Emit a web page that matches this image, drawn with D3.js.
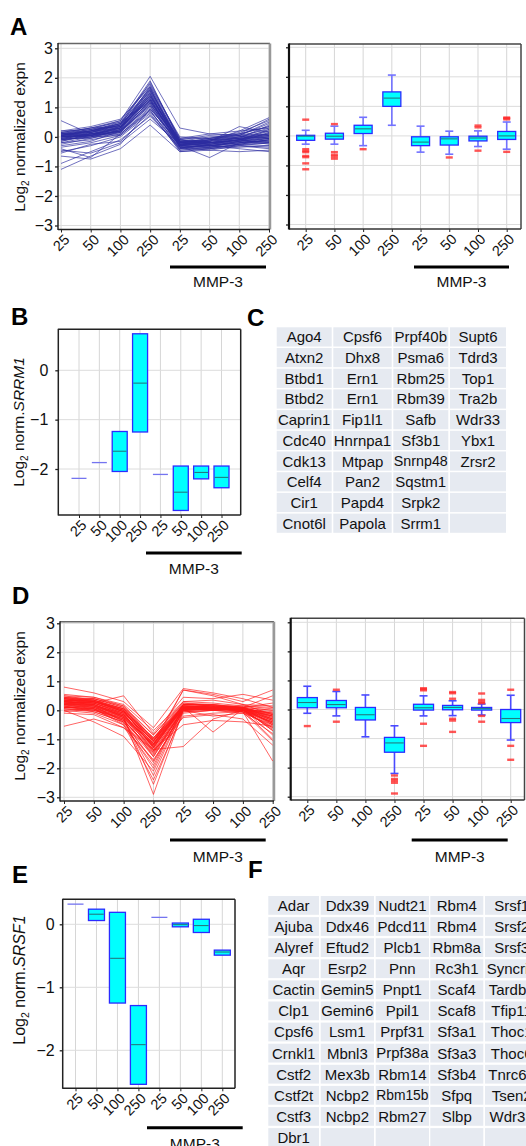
<!DOCTYPE html>
<html>
<head>
<meta charset="utf-8">
<script src="https://cdn.jsdelivr.net/npm/d3@7"></script>
<style>
  body { margin: 0; background: #fff; }
  svg { display: block; }
</style>
</head>
<body>
<div id="chart"></div>
<script>
// categories (dose, then dose + MMP-3)
const cats = ["25", "50", "100", "250", "25", "50", "100", "250"];

// panel A: individual gene profiles (log2 normalized expn)
const aLines = [
  [0.10, 0.25, 0.45, 1.60, -0.20, -0.10, -0.05, 0.10],
  [-0.05, 0.05, 0.30, 1.30, -0.30, -0.25, -0.10, 0.05],
  [0.00, 0.10, 0.20, 1.10, -0.15, -0.20, 0.00, 0.20],
  [0.15, 0.30, 0.55, 2.05, 0.30, 0.10, 0.05, 0.45],
  [-0.10, 0.00, 0.25, 1.45, -0.35, -0.30, -0.20, -0.10],
  [0.05, 0.20, 0.40, 1.85, -0.10, 0.05, 0.10, 0.60],
  [-0.20, -0.10, 0.10, 0.90, -0.40, -0.35, -0.30, -0.20],
  [0.00, 0.05, 0.35, 1.25, -0.25, -0.15, -0.05, 0.00],
  [0.10, 0.15, 0.30, 1.40, -0.20, -0.30, -0.15, 0.15],
  [-0.05, 0.10, 0.15, 1.05, -0.30, -0.20, -0.10, -0.05],
  [0.20, 0.35, 0.60, 1.70, -0.05, 0.10, 0.20, 0.65],
  [-0.50, -0.30, 0.00, 0.80, -0.45, -0.40, -0.35, -0.30],
  [-0.65, -0.75, -0.40, 0.40, -0.50, -0.45, -0.50, -0.45],
  [-0.90, -0.50, -0.10, 0.70, -0.35, -0.30, -0.25, -0.10],
  [-1.10, -0.65, -0.25, 0.95, -0.20, -0.15, 0.00, 0.30],
  [0.55, 0.10, 0.25, 1.20, -0.25, -0.20, -0.10, 0.10],
  [-0.40, -0.70, 0.10, 1.00, -0.30, -0.35, -0.15, -0.05],
  [0.05, 0.00, 0.20, 1.35, -0.15, -0.10, 0.05, 0.25],
  [-0.15, 0.05, 0.30, 1.50, -0.35, -0.25, -0.20, -0.15],
  [0.10, 0.20, 0.50, 1.75, 0.00, -0.05, 0.10, 0.35],
  [0.00, 0.15, 0.40, 1.55, -0.20, -0.15, -0.05, 0.05],
  [-0.25, -0.05, 0.15, 1.15, -0.40, -0.30, -0.20, -0.20],
  [0.05, 0.25, 0.35, 1.30, -0.25, -0.20, -0.10, 0.00],
  [-0.10, 0.00, 0.05, 0.85, -0.30, -0.35, -0.25, -0.10],
  [0.15, 0.20, 0.45, 1.90, -0.15, 0.00, 0.05, 0.50],
  [-0.30, -0.15, 0.20, 1.25, -0.35, -0.45, -0.30, -0.35],
  [0.00, 0.10, 0.30, 1.60, -0.10, -0.20, -0.10, 0.20],
  [-0.05, -0.05, 0.25, 1.40, -0.30, -0.70, -0.20, -0.10],
  [0.10, 0.30, 0.50, 1.20, -0.20, -0.10, 0.00, 0.10],
  [-0.55, -0.25, -0.15, 0.75, -0.40, -0.25, -0.10, -0.25],
  [0.00, 0.05, 0.10, 0.95, -0.20, -0.30, -0.40, -0.50],
  [0.05, 0.15, 0.40, 1.45, -0.25, -0.15, 0.35, 0.15],
  [-0.15, 0.10, 0.35, 1.65, -0.30, -0.20, -0.05, 0.40],
  [0.10, 0.05, 0.20, 1.10, -0.35, -0.40, -0.25, -0.30],
  [-0.45, -0.55, -0.20, 0.60, -0.25, -0.30, -0.20, -0.05],
  [0.20, 0.25, 0.55, 1.80, -0.05, -0.05, 0.15, 0.55],
  [0.00, 0.20, 0.30, 1.35, -0.10, -0.25, -0.15, -0.15],
  [-0.20, 0.00, 0.20, 1.05, -0.45, -0.35, -0.30, -0.40],
  [0.05, 0.10, 0.25, 1.50, -0.20, -0.05, 0.00, 0.05],
  [-0.10, 0.15, 0.45, 1.30, -0.15, -0.20, -0.10, 0.25],
  [0.15, 0.30, 0.35, 1.15, -0.30, -0.10, -0.05, 0.00],
  [-0.35, -0.20, 0.05, 0.90, -0.50, -0.40, -0.25, -0.20],
  [0.00, 0.05, 0.15, 1.25, -0.25, -0.30, -0.15, -0.05],
  [0.05, 0.20, 0.40, 1.40, -0.10, -0.15, 0.20, 0.30],
  [-0.05, 0.10, 0.30, 1.70, -0.20, -0.05, 0.05, 0.10],
  [0.10, 0.15, 0.35, 1.55, -0.15, -0.25, -0.10, -0.20],
  [-0.10, 0.05, 0.20, 1.20, -0.25, -0.10, 0.10, 0.35],
  [0.05, 0.20, 0.45, 1.65, -0.30, -0.20, -0.15, 0.00]
];

// panel A: box summaries
const aQ1 = [-0.15, -0.11, 0.08, 1.00, -0.33, -0.31, -0.17, -0.12];
const aMed = [-0.01, -0.01, 0.24, 1.28, -0.21, -0.10, -0.07, 0.00];
const aQ3 = [0.02, 0.09, 0.36, 1.49, -0.03, -0.03, -0.01, 0.15];
const aLo = [-0.28, -0.28, -0.33, 0.36, -0.55, -0.62, -0.36, -0.45];
const aHi = [0.19, 0.33, 0.63, 2.06, 0.33, 0.16, 0.17, 0.47];
const aOut = [
  [0.55, -0.45, -0.51, -0.55, -0.68, -0.72, -0.93, -1.13],
  [0.40, -0.55, -0.64, -0.70, -0.77],
  [-0.45], [], [], [-0.73],
  [0.35, 0.29, -0.50],
  [0.62, 0.60, 0.56, -0.54]
];

// panel B: SRRM1
const bQ1 = [-2.19, -1.87, -2.05, -1.25, -2.11, -2.84, -2.20, -2.38];
const bMed = [-2.19, -1.87, -1.64, -0.26, -2.11, -2.47, -2.07, -2.17];
const bQ3 = [-2.19, -1.87, -1.24, 0.74, -2.11, -1.94, -1.94, -1.94];

// panel C genes
const cGenes = [
  ["Ago4", "Atxn2", "Btbd1", "Btbd2", "Caprin1", "Cdc40", "Cdk13", "Celf4", "Cir1", "Cnot6l"],
  ["Cpsf6", "Dhx8", "Ern1", "Ern1", "Fip1l1", "Hnrnpa1", "Mtpap", "Pan2", "Papd4", "Papola"],
  ["Prpf40b", "Psma6", "Rbm25", "Rbm39", "Safb", "Sf3b1", "Snrnp48", "Sqstm1", "Srpk2", "Srrm1"],
  ["Supt6", "Tdrd3", "Top1", "Tra2b", "Wdr33", "Ybx1", "Zrsr2", "", "", ""]
];

// panel D: individual gene profiles
const dLines = [
  [0.25, 0.20, -0.15, -1.15, 0.05, 0.10, 0.05, -0.30],
  [0.40, 0.30, 0.05, -0.95, 0.15, 0.12, 0.05, -0.10],
  [0.10, 0.05, -0.35, -1.45, 0.00, 0.05, 0.00, -0.45],
  [0.30, 0.25, -0.10, -1.05, 0.10, 0.08, 0.03, -0.20],
  [0.80, 0.60, 0.30, -0.60, 0.75, 0.60, 0.40, 0.10],
  [0.05, -0.05, -0.40, -1.60, -0.05, 0.00, -0.05, -0.55],
  [0.35, 0.30, 0.00, -1.20, 0.20, 0.15, 0.10, -0.25],
  [0.20, 0.15, -0.20, -1.30, 0.05, 0.05, 0.00, -0.40],
  [0.45, 0.40, 0.10, -0.85, 0.25, 0.20, 0.10, 0.00],
  [0.00, -0.10, -0.50, -1.90, 0.10, 0.05, 0.05, -0.70],
  [0.25, 0.35, -0.05, -1.00, 0.15, 0.10, 0.05, -0.15],
  [-0.55, -0.30, -0.60, -1.35, -1.25, -0.30, 0.00, -0.30],
  [0.15, 0.00, -0.30, -2.25, 0.05, 0.05, 0.00, -1.00],
  [0.30, 0.20, -0.25, -2.90, 0.00, 0.10, -0.05, -1.75],
  [0.40, 0.35, 0.05, -1.10, 0.70, 0.55, 0.30, 0.70],
  [0.10, 0.10, -0.15, -1.25, 0.10, -0.75, 0.05, -0.35],
  [0.35, 0.25, -0.10, -1.40, 0.05, 0.10, 0.10, -0.50],
  [0.20, 0.05, -0.45, -2.00, 0.15, 0.05, 0.05, -0.85],
  [0.50, 0.45, 0.20, -0.70, 0.30, 0.25, 0.15, 0.10],
  [0.25, 0.30, -0.05, -1.15, 0.05, 0.00, 0.05, -0.20],
  [-0.10, -0.15, -0.60, -1.70, -0.20, -0.10, -0.05, -0.60],
  [0.30, 0.20, -0.20, -1.20, 0.10, 0.15, 0.10, -0.30],
  [0.45, 0.35, 0.00, -0.95, 0.20, 0.20, 0.05, -0.05],
  [0.15, 0.10, -0.35, -1.50, 0.00, 0.05, 0.00, -0.40],
  [0.05, 0.00, -0.25, -1.35, -0.50, -0.35, -0.40, -0.55],
  [0.40, 0.25, 0.50, -0.80, 0.45, 0.40, 0.55, 0.35],
  [0.20, 0.15, -0.10, -1.05, 0.15, 0.10, 0.10, -0.15],
  [0.35, 0.30, -0.05, -1.25, 0.05, 0.05, 0.05, -0.45],
  [0.10, 0.05, -0.50, -2.40, -0.10, 0.00, -0.05, -1.05],
  [0.30, 0.40, 0.10, -1.00, 0.10, 0.15, 0.05, -0.10],
  [0.25, 0.15, -0.20, -1.60, 0.05, 0.10, 0.00, -0.65],
  [-0.05, 0.05, -0.30, -1.15, 0.20, 0.15, 0.10, 0.50],
  [0.40, 0.30, 0.00, -1.30, 0.10, 0.05, 0.05, -0.25],
  [0.20, 0.20, -0.15, -1.45, 0.00, 0.05, 0.00, -0.35],
  [0.55, 0.45, 0.15, -0.85, 0.30, 0.35, 0.20, 0.15],
  [0.15, -0.05, -0.40, -1.75, -0.05, 0.00, -0.10, -0.80],
  [0.30, 0.25, -0.10, -1.05, 0.15, 0.10, 0.10, -0.20],
  [0.00, -0.40, -0.90, -2.10, 0.05, 0.10, 0.05, -0.45],
  [0.25, 0.20, -0.20, -1.20, 0.70, 0.50, 0.20, -0.15],
  [0.35, 0.35, 0.05, -1.10, 0.10, 0.10, 0.05, -0.30],
  [0.10, 0.15, -0.25, -1.35, 0.00, -0.20, -0.10, -0.50],
  [0.45, 0.30, -0.05, -0.95, 0.25, 0.15, 0.10, 0.00],
  [0.20, 0.10, -0.30, -1.55, 0.05, 0.05, 0.00, -0.60],
  [0.30, 0.25, -0.15, -1.25, 0.10, 0.10, 0.05, -0.20],
  [0.05, 0.00, -0.35, -1.40, -0.25, -0.15, -0.30, -1.20],
  [0.40, 0.40, 0.15, -1.00, 0.20, 0.20, 0.10, 0.25],
  [0.25, 0.10, -0.25, -2.55, 0.00, 0.05, 0.05, -0.70],
  [0.15, 0.25, -0.05, -1.15, 0.15, 0.10, 0.05, -0.10],
  [0.35, 0.15, -0.40, -1.80, 0.00, 0.05, -0.05, -0.40],
  [0.20, 0.30, 0.00, -1.30, 0.20, 0.15, 0.15, 0.05],
  [0.50, 0.35, 0.05, -1.05, 0.05, 0.10, 0.05, -0.35],
  [0.10, 0.05, -0.20, -1.20, 0.10, 0.05, 0.00, -0.50]
];

// panel D: box summaries
const dQ1 = [0.06, 0.06, -0.36, -1.47, -0.02, -0.01, -0.02, -0.45];
const dMed = [0.24, 0.17, -0.18, -1.15, 0.06, 0.07, 0.03, -0.31];
const dQ3 = [0.41, 0.31, 0.07, -0.96, 0.18, 0.14, 0.07, 0.00];
const dLo = [-0.13, -0.22, -0.94, -2.20, -0.22, -0.21, -0.19, -1.05];
const dHi = [0.80, 0.62, 0.50, -0.56, 0.47, 0.30, 0.19, 0.49];
const dOut = [
  [-0.57],
  [0.68, -0.42],
  [],
  [-2.27, -2.39, -2.45, -2.52, -2.89],
  [0.73, 0.70, 0.66, -0.49, -1.25],
  [0.60, 0.56, 0.37, -0.32, -0.38, -0.77],
  [0.55, 0.33, 0.26, 0.22, -0.22, -0.42],
  [0.68, -1.25, -1.73]
];

// panel E: SRSF1
const eQ1 = [0.32, 0.06, -1.25, -2.54, 0.11, -0.04, -0.13, -0.49];
const eMed = [0.32, 0.16, -0.54, -1.91, 0.11, -0.005, -0.02, -0.44];
const eQ3 = [0.32, 0.24, 0.19, -1.29, 0.11, 0.02, 0.08, -0.41];

// panel F genes
const fGenes = [
  ["Adar", "Ajuba", "Alyref", "Aqr", "Cactin", "Clp1", "Cpsf6", "Crnkl1", "Cstf2", "Cstf2t", "Cstf3", "Dbr1"],
  ["Ddx39", "Ddx46", "Eftud2", "Esrp2", "Gemin5", "Gemin6", "Lsm1", "Mbnl3", "Mex3b", "Ncbp2", "Ncbp2", ""],
  ["Nudt21", "Pdcd11", "Plcb1", "Pnn", "Pnpt1", "Ppil1", "Prpf31", "Prpf38a", "Rbm14", "Rbm15b", "Rbm27", ""],
  ["Rbm4", "Rbm4", "Rbm8a", "Rc3h1", "Scaf4", "Scaf8", "Sf3a1", "Sf3a3", "Sf3b4", "Sfpq", "Slbp", ""],
  ["Srsf1", "Srsf2", "Srsf3", "Syncrip", "Tardbp", "Tfip11", "Thoc1", "Thoc6", "Tnrc6a", "Tsen2", "Wdr33", ""]
];

const W = 526, H = 1146;
const FONT = "'Liberation Sans', Arial, Helvetica, sans-serif";

const svg = d3.select("#chart").append("svg")
  .attr("width", W).attr("height", H)
  .attr("font-family", FONT);
svg.append("rect").attr("width", W).attr("height", H).attr("fill", "#fff");

// one plotting frame with grid + axes, returns scales
function panel(p) {
  const x = d3.scalePoint().domain(d3.range(cats.length)).range([p.x0, p.x1]);
  const y = d3.scaleLinear().domain(p.ydom).range(p.yrng);
  const g = svg.append("g");

  g.selectAll("line.vg").data(x.domain()).join("line").attr("class", "vg")
    .attr("x1", d => x(d)).attr("x2", d => x(d))
    .attr("y1", p.top).attr("y2", p.bottom)
    .attr("stroke", "#d6d6d6").attr("stroke-width", 1);
  g.selectAll("line.hg").data(p.ticks).join("line").attr("class", "hg")
    .attr("x1", p.left).attr("x2", p.right)
    .attr("y1", d => y(d)).attr("y2", d => y(d))
    .attr("stroke", "#dcdcdc").attr("stroke-width", 1);

  const ya = g.append("g")
    .attr("transform", `translate(${p.left},0)`)
    .call(d3.axisLeft(y).tickValues(p.ticks).tickSize(3).tickPadding(p.pad)
      .tickFormat(p.showY ? d3.format("d") : ""));
  ya.select(".domain").remove();
  ya.selectAll("line").attr("stroke", "#222").attr("stroke-width", 1.3);
  ya.selectAll("text").attr("font-size", 16).attr("fill", "#111").attr("font-family", FONT);

  const xa = g.append("g")
    .attr("transform", `translate(0,${p.bottom})`)
    .call(d3.axisBottom(x).tickSize(3).tickFormat(i => cats[i]));
  xa.select(".domain").remove();
  xa.selectAll("line").attr("stroke", "#222");
  xa.selectAll("text")
    .attr("x", null).attr("y", null).attr("dy", null)
    .attr("transform", `translate(${p.lx},${p.ly}) rotate(-45)`)
    .attr("text-anchor", "end")
    .attr("font-size", p.xfs).attr("fill", "#111").attr("font-family", FONT);

  const f = p.frame;
  const edge = (x1, y1, x2, y2, s) => g.append("line")
    .attr("x1", x1).attr("y1", y1).attr("x2", x2).attr("y2", y2)
    .attr("stroke", s[0]).attr("stroke-width", s[1]);
  edge(p.left, p.top, p.right, p.top, f.top);
  edge(p.right, p.top, p.right, p.bottom, f.right);
  edge(p.left, p.bottom, p.right, p.bottom, f.bottom);
  edge(p.left, p.top - 0.5, p.left, p.bottom + 0.5, f.left);

  return {g, x, y};
}

function drawLines(s, rows, color) {
  const line = d3.line().x((d, i) => s.x(i)).y(d => s.y(d));
  s.g.append("g").selectAll("path").data(rows).join("path")
    .attr("d", line)
    .attr("fill", "none")
    .attr("stroke", color)
    .attr("stroke-width", 0.9)
    .attr("stroke-opacity", 0.75);
}

function drawBoxes(s, q1, med, q3, lo, hi, out, bw, wcol) {
  const g = s.g.append("g");
  const idx = d3.range(q1.length);
  if (lo) {
    idx.forEach(i => {
      const cx = s.x(i);
      g.append("line").attr("x1", cx).attr("x2", cx)
        .attr("y1", s.y(q3[i])).attr("y2", s.y(hi[i]))
        .attr("stroke", wcol).attr("stroke-width", 1.6);
      g.append("line").attr("x1", cx).attr("x2", cx)
        .attr("y1", s.y(q1[i])).attr("y2", s.y(lo[i]))
        .attr("stroke", wcol).attr("stroke-width", 1.6);
      [hi[i], lo[i]].forEach(v => g.append("line")
        .attr("x1", cx - 4).attr("x2", cx + 4)
        .attr("y1", s.y(v)).attr("y2", s.y(v))
        .attr("stroke", wcol).attr("stroke-width", 1.6));
      out[i].forEach(v => g.append("rect")
        .attr("x", cx - 3.5).attr("y", s.y(v) - 1.2)
        .attr("width", 7).attr("height", 2.4)
        .attr("fill", "#ff2a2a").attr("fill-opacity", 0.8));
    });
  }
  idx.forEach(i => {
    const cx = s.x(i);
    const yt = s.y(q3[i]), yb = s.y(q1[i]);
    if (yb - yt < 1) {
      g.append("line").attr("x1", cx - bw / 2).attr("x2", cx + bw / 2)
        .attr("y1", yt).attr("y2", yt)
        .attr("stroke", "#7474f0").attr("stroke-width", 1.3);
      return;
    }
    g.append("rect").attr("x", cx - bw / 2).attr("y", yt)
      .attr("width", bw).attr("height", yb - yt)
      .attr("fill", "#00ffff").attr("stroke", "#2b2bff").attr("stroke-width", 1.3);
    g.append("line").attr("x1", cx - bw / 2 + 0.7).attr("x2", cx + bw / 2 - 0.7)
      .attr("y1", s.y(med[i])).attr("y2", s.y(med[i]))
      .attr("stroke", "#237a80").attr("stroke-width", 1.1);
  });
}

function mmp(x1, x2, yb, ty) {
  svg.append("line").attr("x1", x1).attr("x2", x2).attr("y1", yb).attr("y2", yb)
    .attr("stroke", "#000").attr("stroke-width", 3);
  svg.append("text").attr("x", (x1 + x2) / 2).attr("y", ty)
    .attr("text-anchor", "middle").attr("font-size", 15.5).attr("fill", "#111")
    .text("MMP-3");
}

function letter(t, x, y) {
  svg.append("text").attr("x", x).attr("y", y).attr("font-size", 24)
    .attr("font-weight", "bold").attr("fill", "#000").text(t);
}

function ylab(x, y, rest, italic, fs) {
  const t = svg.append("text")
    .attr("transform", `translate(${x},${y}) rotate(-90)`)
    .attr("text-anchor", "middle").attr("font-size", fs).attr("fill", "#111");
  t.append("tspan").text("Log");
  t.append("tspan").attr("font-size", fs * 0.65).attr("dy", 4).text("2");
  t.append("tspan").attr("dy", -4).text(" " + rest);
  if (italic) t.append("tspan").attr("font-style", "italic").text(italic);
}

function table(cols, x0s, widths, top, pitch, h) {
  const g = svg.append("g");
  cols.forEach((col, c) => {
    col.forEach((name, r) => {
      const x = x0s[c], y = top + r * pitch;
      g.append("rect").attr("x", x).attr("y", y)
        .attr("width", widths[c]).attr("height", h).attr("fill", "#e6eaf1");
      if (!name) return;
      const t = g.append("text").attr("x", x + widths[c] / 2).attr("y", y + h / 2)
        .attr("dy", "0.36em").attr("text-anchor", "middle")
        .attr("font-size", 15).attr("fill", "#111").text(name);
      const len = t.node().getComputedTextLength();
      if (len > widths[c] - 1) t.attr("font-size", 15 * (widths[c] - 1) / len);
    });
  });
}

const leftFrame = {top: ["#666", 1.5], right: ["#999", 2.5], bottom: ["#222", 1.5], left: ["#222", 1.5]};
const rightFrame = {top: ["#444", 1.5], right: ["#444", 1.5], bottom: ["#333", 1.5], left: ["#111", 2.2]};
const boxFrame = {top: ["#222", 1.5], right: ["#222", 1.5], bottom: ["#222", 1.5], left: ["#222", 1.5]};

// ---- A ----
letter("A", 10, 35);
ylab(25, 137, "normalized expn", null, 15.5);
const sA1 = panel({left: 58, right: 270, top: 43.5, bottom: 229.5, x0: 61, x1: 269,
  ydom: [-3, 3], yrng: [225.5, 48.3], ticks: [-3, -2, -1, 0, 1, 2, 3], showY: true, pad: 2,
  lx: 9, ly: 11, xfs: 14.5, frame: leftFrame});
drawLines(sA1, aLines, "#2b2ba0");
const sA2 = panel({left: 289, right: 521, top: 44, bottom: 229, x0: 305.7, x1: 506.7,
  ydom: [-3, 3], yrng: [224.5, 47.3], ticks: [-3, -2, -1, 0, 1, 2, 3], showY: false, pad: 2,
  lx: 8, ly: 11, xfs: 14.5, frame: rightFrame});
drawBoxes(sA2, aQ1, aMed, aQ3, aLo, aHi, aOut, 18, "#7272ff");
mmp(170, 266, 267, 287);
mmp(414, 509, 267, 287);

// ---- B ----
letter("B", 11, 325);
ylab(24, 422, "norm.", "SRRM1", 15.5);
const sB = panel({left: 58.3, right: 240.7, top: 329.3, bottom: 515, x0: 79, x1: 221.5,
  ydom: [0, -2], yrng: [370.3, 469], ticks: [-2, -1, 0], showY: true, pad: 7,
  lx: 8, ly: 11, xfs: 14.5, frame: boxFrame});
drawBoxes(sB, bQ1, bMed, bQ3, null, null, null, 15, "#7272ff");
mmp(146, 241.7, 553, 574);

// ---- C ----
letter("C", 247, 326);
table(cGenes, [276.7, 333.3, 393.3, 450], [55, 58.4, 55, 56], 327.3, 20.7, 19.2);

// ---- D ----
letter("D", 12, 604);
ylab(25, 706, "normalized expn", null, 15.5);
const sD1 = panel({left: 60, right: 274, top: 621.7, bottom: 801, x0: 64, x1: 272.7,
  ydom: [-3, 3], yrng: [797.3, 623.3], ticks: [-3, -2, -1, 0, 1, 2, 3], showY: true, pad: 2,
  lx: 9, ly: 11, xfs: 14.5, frame: leftFrame});
drawLines(sD1, dLines, "#ff1a1a");
const sD2 = panel({left: 290.7, right: 524.5, top: 618.3, bottom: 800, x0: 307.3, x1: 510.7,
  ydom: [-3, 3], yrng: [796.7, 622.3], ticks: [-3, -2, -1, 0, 1, 2, 3], showY: false, pad: 2,
  lx: 8, ly: 11, xfs: 14.5, frame: rightFrame});
drawBoxes(sD2, dQ1, dMed, dQ3, dLo, dHi, dOut, 20, "#4a4aff");
mmp(170, 265.7, 840, 862);
mmp(411.7, 507.7, 840, 862);

// ---- E ----
letter("E", 12, 883);
ylab(25, 980, "norm.", "SRSF1", 16);
const sE = panel({left: 62.7, right: 235, top: 899.3, bottom: 1088.3, x0: 75.5, x1: 222.3,
  ydom: [0, -2], yrng: [924.3, 1050.3], ticks: [-2, -1, 0], showY: true, pad: 5,
  lx: 8, ly: 11, xfs: 14.5, frame: boxFrame});
drawBoxes(sE, eQ1, eMed, eQ3, null, null, null, 16, "#7272ff");
mmp(147, 242.7, 1127.7, 1149);

// ---- F ----
letter("F", 248, 878);
table(fGenes, [268.3, 320.7, 375.7, 430.3, 485], [50.7, 53.3, 53.3, 53, 53.3], 896, 21.1, 18.8);
</script>
</body>
</html>
